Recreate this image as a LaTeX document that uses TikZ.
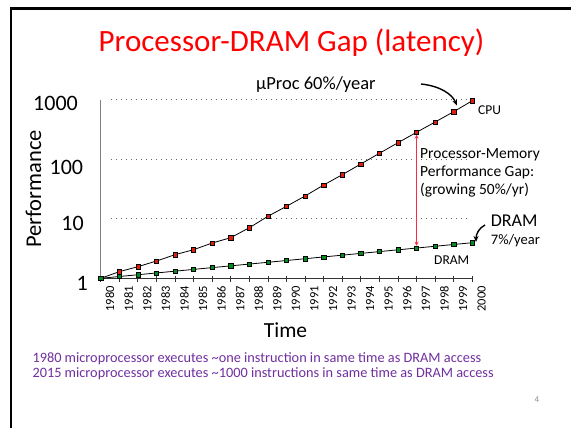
\documentclass[tikz,border=0pt]{standalone}
\usepackage{fontspec}
\setmainfont{Carlito}
\usetikzlibrary{arrows.meta}
\definecolor{titlered}{RGB}{255,0,0}
\definecolor{gapred}{RGB}{255,40,70}
\definecolor{notepurple}{RGB}{112,48,160}
\definecolor{cpufill}{RGB}{225,30,10}
\definecolor{dramfill}{RGB}{0,140,30}
\newcommand{\myfs}[1]{\fontsize{#1}{#1}\selectfont}
\begin{document}
\begin{tikzpicture}[x=1pt,y=-1pt,
  cpupt/.style={rectangle,draw=black,line width=0.5pt,fill=cpufill,minimum size=4.2pt,inner sep=0pt},
  drampt/.style={rectangle,draw=black,line width=0.5pt,fill=dramfill,minimum size=4.2pt,inner sep=0pt},
  series/.style={black,line width=0.8pt},
  gridln/.style={black!60, line width=1pt, dash pattern=on 1.2pt off 3.8pt},
  ylab/.style={anchor=east,inner sep=0pt,font=\myfs{22}},
  yearlab/.style={rotate=90,anchor=east,inner sep=0pt,font=\myfs{12.5}},
  bent/.style={-{Stealth[length=6pt,width=5pt]}, line width=1.4pt, black},
  gaparrow/.style={{Stealth[length=4pt,width=4pt]}-{Stealth[length=4pt,width=4pt]}, gapred, line width=1pt},
  lbl/.style={inner sep=0pt, anchor=base west},
]
\useasboundingbox (0,0) rectangle (571,428);
\fill[white] (0,0) rectangle (571,428);
% slide border
\coordinate (bl) at (11,428); \coordinate (tl) at (11,8.5); \coordinate (tr) at (571,8.5);
\draw[line width=2.6pt, line join=miter] (bl) -- (tl) -- (tr);
% title
\node[font=\myfs{31}, text=titlered, inner sep=0pt] (title) at (291.5,43) {Processor-DRAM Gap (latency)};
% grid lines
\foreach \yy/\nm in {100/g3, 159.3/g2, 218.7/g1} {
  \coordinate (\nm a) at (111,\yy); \coordinate (\nm b) at (470,\yy);
  \draw[gridln] (\nm a) -- (\nm b);
}
% axes
\coordinate (o) at (100.7,278.5); \coordinate (ytop) at (100.7,100); \coordinate (xend) at (472.9,278.5);
\draw[gray, line width=1.5pt] (o) -- (ytop);
\draw[black!80, line width=1pt] (o) -- (xend);
\foreach \n in {0,...,20} {
  \pgfmathsetmacro\xx{100.7+18.58*\n}
  \pgfmathtruncatemacro\yr{1980+\n}
  \coordinate (ta\n) at (\xx,275.5); \coordinate (tb\n) at (\xx,281.5);
  \draw[black!80, line width=0.8pt] (ta\n) -- (tb\n);
  \node[yearlab] (yr\n) at (\xx+9.3,286) {\yr};
}
% y labels
\node[ylab] (l1000) at (78,103.5) {1000};
\node[ylab] (l100) at (83.3,167.7) {100};
\node[ylab] (l10) at (84,223) {10};
\node[ylab] (l1) at (88,283) {1};
\node[rotate=90, font=\myfs{22.5}, inner sep=0pt] (perf) at (33.5,189) {Performance};
\node[anchor=base, font=\myfs{21.5}, inner sep=0pt] (timelab) at (285.5,337.5) {Time};
% data
\foreach \n/\yy in {0/278.3,1/271.7,2/266.7,3/261,4/254.7,5/249.7,6/243,7/237.7,8/227.7,9/216.3,10/206.3,11/196,12/185,13/174.7,14/164,15/153.3,16/142.7,17/132.3,18/122,19/111.7,20/100.7} {
  \coordinate (c\n) at ({100.7+18.58*\n},\yy);
}
\foreach \n in {0,...,20} {
  \coordinate (d\n) at ({100.7+18.58*\n},{278.3-1.78*\n});
}
\draw[series] (c0) \foreach \n in {1,...,20} { -- (c\n) };
\draw[series] (d0) \foreach \n in {1,...,20} { -- (d\n) };
\foreach \n in {0,...,20} { \node[cpupt] (cm\n) at (c\n) {}; }
\foreach \n in {0,...,20} { \node[drampt] (dm\n) at (d\n) {}; }
% gap arrow and text
\draw[gaparrow] (cm17.south) -- (dm17.north);
\node[lbl, align=left, font=\fontsize{15.5}{18.3}\selectfont] (gaptxt) at (420,194.9) {Processor-Memory\\Performance Gap:\\(growing 50\%/yr)};
% labels
\node[lbl, font=\myfs{18.5}] (uproc) at (256,90) {µProc 60\%/year};
\coordinate (ua) at (421,84); \coordinate (ub) at (457,105.5);
\draw[bent] (ua) .. controls (440,86) and (452,94) .. (ub);
\node[lbl, font=\myfs{13.5}] (cpulab) at (478,115) {CPU};
\node[lbl, font=\myfs{18}] (dramlab) at (490.7,226.7) {DRAM};
\node[lbl, font=\myfs{14.5}] (dramrate) at (490.7,244.3) {7\%/year};
\node[lbl, font=\myfs{13.5}] (dramsmall) at (434,264) {DRAM};
\coordinate (da) at (485,225); \coordinate (db) at (476,242);
\draw[bent] (da) .. controls (479,228) and (476,234) .. (db);
% notes
\node[lbl, align=left, font=\fontsize{14.3}{15.2}\selectfont, text=notepurple] (notes) at (32.3,377.7) {1980 microprocessor executes \textasciitilde one instruction in same time as DRAM access\\2015 microprocessor executes \textasciitilde 1000 instructions in same time as DRAM access};
\node[text=black!45, font=\myfs{9}, inner sep=0pt] (pnum) at (537,400) {4};
\end{tikzpicture}
\end{document}
